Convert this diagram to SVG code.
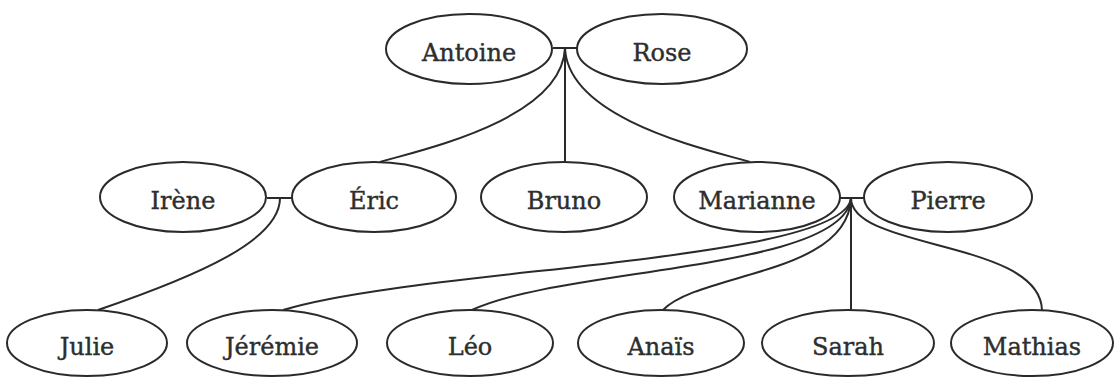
<svg xmlns="http://www.w3.org/2000/svg" width="1115" height="378" viewBox="0 0 1115 378">
<style>
.n ellipse{fill:#fff;stroke:#2a2a2a;stroke-width:2}
.n text{font-family:"DejaVu Serif","Liberation Serif",serif;font-size:24px;fill:#2e2e2e;stroke:#2e2e2e;stroke-width:0.4;text-anchor:middle}
#edges path,#edges line{fill:none;stroke:#2a2a2a;stroke-width:2}
</style>
<rect width="1115" height="378" fill="#fff"/>
<g id="edges">
<line x1="553" y1="48" x2="577" y2="48"/>
<path d="M565,48 C562,120 420,150 380,162"/>
<line x1="565" y1="48" x2="565" y2="162"/>
<path d="M565,48 C568,120 710,150 750,162"/>
<line x1="267" y1="198" x2="292" y2="198"/>
<path d="M280,198 C280,240 200,275 98,310"/>
<line x1="840" y1="198" x2="865" y2="198"/>
<path d="M851,198 C845,262 420,268 283,310"/>
<path d="M851,198 C845,270 560,268 472,310"/>
<path d="M851,198 C848,275 700,272 663,310"/>
<line x1="851" y1="198" x2="851" y2="310"/>
<path d="M851,198 C851,250 1040,240 1042,310"/>
</g>
<g id="antoine" class="n"><ellipse cx="469" cy="49" rx="83" ry="35"/><text x="469" y="61">Antoine</text></g>
<g id="rose" class="n"><ellipse cx="662" cy="49" rx="85" ry="35"/><text x="662" y="61">Rose</text></g>
<g id="irene" class="n"><ellipse cx="183" cy="197" rx="83" ry="35"/><text x="183" y="209">Irène</text></g>
<g id="eric" class="n"><ellipse cx="374" cy="197" rx="82" ry="35"/><text x="374" y="209">Éric</text></g>
<g id="bruno" class="n"><ellipse cx="564" cy="197" rx="83" ry="35"/><text x="564" y="209">Bruno</text></g>
<g id="marianne" class="n"><ellipse cx="757" cy="197" rx="83" ry="35"/><text x="757" y="209">Marianne</text></g>
<g id="pierre" class="n"><ellipse cx="948" cy="197" rx="84" ry="35"/><text x="948" y="209">Pierre</text></g>
<g id="julie" class="n"><ellipse cx="87" cy="343" rx="80" ry="33"/><text x="87" y="355">Julie</text></g>
<g id="jeremie" class="n"><ellipse cx="272" cy="343" rx="85" ry="33"/><text x="272" y="355">Jérémie</text></g>
<g id="leo" class="n"><ellipse cx="470" cy="343" rx="83" ry="33"/><text x="470" y="355">Léo</text></g>
<g id="anais" class="n"><ellipse cx="661" cy="343" rx="83" ry="33"/><text x="661" y="355">Anaïs</text></g>
<g id="sarah" class="n"><ellipse cx="848" cy="343" rx="86" ry="33"/><text x="848" y="355">Sarah</text></g>
<g id="mathias" class="n"><ellipse cx="1032" cy="343" rx="81" ry="33"/><text x="1032" y="355">Mathias</text></g>
</svg>
